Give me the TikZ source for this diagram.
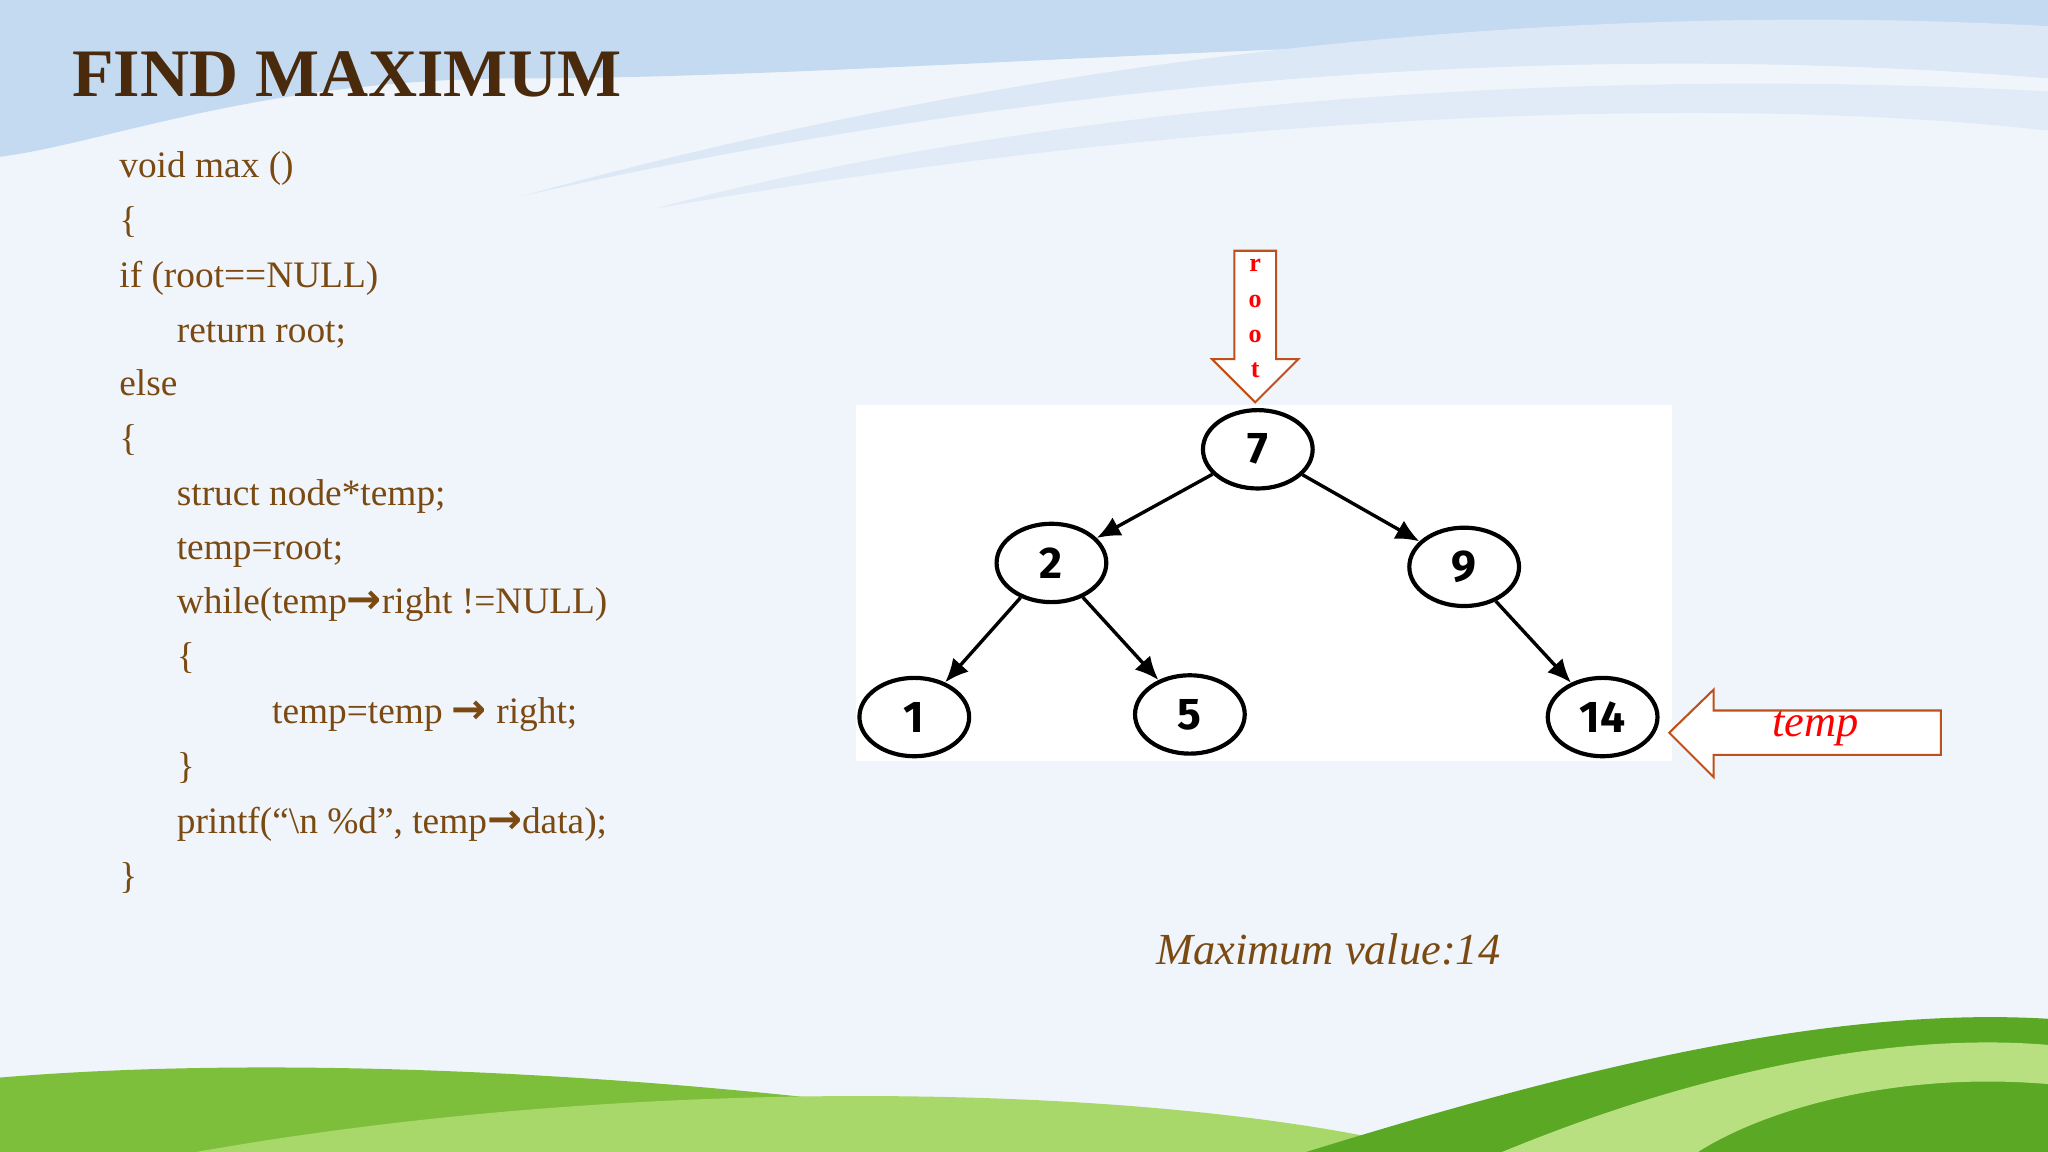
\documentclass[tikz,border=0pt]{standalone}
\usepackage{fontspec}
\setmainfont{Liberation Serif}
\newfontfamily\djv{DejaVu Sans}
\newfontfamily\fira{Fira Sans}
\usetikzlibrary{shapes.geometric,shapes.arrows,arrows.meta}
\definecolor{brn}{HTML}{7A4A12}
\definecolor{ttl}{HTML}{4A2A0C}
\definecolor{arw}{HTML}{C0501A}
\definecolor{sky1}{HTML}{C4DAF0}
\definecolor{sky2}{HTML}{DCE8F6}
\definecolor{bg}{HTML}{F0F5FB}
\definecolor{g1}{HTML}{7DBF3A}
\definecolor{g2}{HTML}{A8D86A}
\definecolor{g3}{HTML}{5AA824}
\definecolor{g4}{HTML}{B8E080}
\tikzset{
 codel/.style={anchor=base west,text=brn,font=\fontsize{14.3}{15}\selectfont,inner sep=0},
 tnode/.style={ellipse,draw,line width=1.6pt,minimum width=42pt,minimum height=30pt,font=\fira\bfseries\fontsize{17}{17}\selectfont,fill=white},
 edge/.style={line width=1.3pt,-{Latex[length=9pt,width=8pt]}}
}
\newcommand{\ar}{{\djv\bfseries\fontsize{16}{16}\selectfont →}}
\begin{document}
\begin{tikzpicture}[x=0.5pt,y=-0.5pt]
\useasboundingbox (0,0) rectangle (1568,882);
\fill[bg] (0,0) rectangle (1568,882);
% top waves
\fill[sky1] (0,0) -- (1568,0) -- (1568,40) .. controls (1200,10) and (700,60) .. (400,60) .. controls (200,60) and (80,110) .. (0,120) -- cycle;
\fill[sky2] (400,150) .. controls (800,60) and (1200,30) .. (1568,60) -- (1568,20) .. controls (1200,0) and (800,40) .. (400,150) -- cycle;
\fill[sky2,opacity=0.7] (500,160) .. controls (900,90) and (1300,70) .. (1568,100) -- (1568,70) .. controls (1200,50) and (800,80) .. (500,160) -- cycle;
% bottom hills
\fill[g1] (0,882) -- (0,825) .. controls (300,800) and (700,840) .. (900,882) -- cycle;
\fill[g2] (150,882) .. controls (500,820) and (900,830) .. (1100,882) -- cycle;
\fill[g3] (1000,882) .. controls (1200,820) and (1400,770) .. (1568,780) -- (1568,882) -- cycle;
\fill[g4] (1150,882) .. controls (1300,820) and (1450,790) .. (1568,800) -- (1568,830) .. controls (1450,820) and (1350,850) .. (1300,882) -- cycle;
% title
\node[anchor=base west,inner sep=0,text=ttl,font=\bfseries\fontsize{26}{26}\selectfont] (title) at (55,74) {FIND MAXIMUM};
% code
\node[codel] (c1) at (91,136) {void max ()};
\node[codel] (c2) at (91,178) {\{};
\node[codel] (c3) at (91,220) {if (root==NULL)};
\node[codel] (c4) at (135,262) {return root;};
\node[codel] (c5) at (91,303) {else};
\node[codel] (c6) at (91,345) {\{};
\node[codel] (c7) at (135,387) {struct node*temp;};
\node[codel] (c8) at (135,428) {temp=root;};
\node[codel] (c9) at (135,470) {while(temp\ar right !=NULL)};
\node[codel] (c10) at (135,512) {\{};
\node[codel] (c11) at (208,554) {temp=temp \ar\ right;};
\node[codel] (c12) at (135,596) {\}};
\node[codel] (c13) at (135,638) {printf(“\textbackslash n \%d”, temp\ar data);};
\node[codel] (c14) at (91,680) {\}};
% tree panel
\fill[white] (655,310) rectangle (1280,583);
\node[tnode] (n7) at (963,344) {7};
\node[tnode] (n2) at (805,431) {2};
\node[tnode] (n9) at (1121,434) {9};
\node[tnode] (n1) at (700,549) {1};
\node[tnode] (n5) at (911,547) {5};
\node[tnode] (n14) at (1227,549) {14};
\draw[edge] (n7) -- (n2);
\draw[edge] (n7) -- (n9);
\draw[edge] (n2) -- (n1);
\draw[edge] (n2) -- (n5);
\draw[edge] (n9) -- (n14);
% root arrow
\draw[arw,line width=0.8pt,fill=white] (945,192) -- (977,192) -- (977,275) -- (994,275) -- (961,308) -- (928,275) -- (945,275) -- cycle;
\node[text=red,font=\bfseries\fontsize{10}{13.5}\selectfont,align=center,inner sep=0] (rt) at (961,244) {r\\o\\o\\t};
% temp arrow
\draw[arw,line width=0.8pt,fill=white] (1278,561) -- (1312,528) -- (1312,544) -- (1486,544) -- (1486,578) -- (1312,578) -- (1312,595) -- cycle;
\node[text=red,font=\itshape\fontsize{17}{17}\selectfont,inner sep=0] (tp) at (1390,558) {temp};
\node[text=brn,font=\itshape\fontsize{17}{17}\selectfont,inner sep=0] (mx) at (1017,727) {Maximum value:14};
\end{tikzpicture}
\end{document}
